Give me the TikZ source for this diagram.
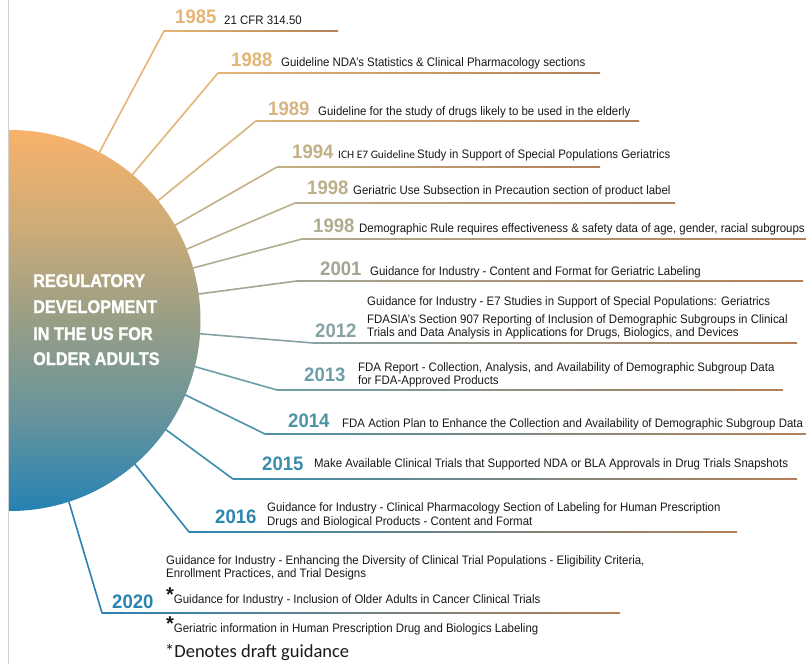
\documentclass[tikz,border=0pt]{standalone}
\usepackage{fontspec}
\setmainfont{Liberation Sans}[FakeStretch=0.93]
\newfontfamily\yearfont{Liberation Sans}[FakeStretch=0.95]
\newfontfamily\starfont{Liberation Sans}
\newfontfamily\titlefont{Liberation Sans}[FakeStretch=0.89, BoldFeatures={FakeBold=1.3}]
\newfontfamily\cfont{Carlito}
\usetikzlibrary{calc}

% palette
\definecolor{c85}{RGB}{229,181,116}
\definecolor{c88}{RGB}{226,182,119}
\definecolor{c89}{RGB}{216,180,126}
\definecolor{c94}{RGB}{196,176,134}
\definecolor{c98a}{RGB}{188,175,140}
\definecolor{c98b}{RGB}{176,172,144}
\definecolor{c01}{RGB}{163,165,146}
\definecolor{c12}{RGB}{134,162,162}
\definecolor{c13}{RGB}{110,159,168}
\definecolor{c14}{RGB}{79,147,168}
\definecolor{c15}{RGB}{60,141,173}
\definecolor{c16}{RGB}{45,134,176}
\definecolor{c20}{RGB}{44,130,178}
\definecolor{tipbrown}{RGB}{180,128,88}
\definecolor{bodytext}{RGB}{25,25,25}

% sun disc: orange at the top, through khaki and grey-teal, to blue at the bottom
\pgfdeclareverticalshading{hubshade}{100bp}{%
  color(0bp)=(rgb,255:red,36;green,130;blue,180);
  color(25bp)=(rgb,255:red,36;green,130;blue,180);
  color(37.5bp)=(rgb,255:red,104;green,148;blue,156);
  color(50bp)=(rgb,255:red,152;green,158;blue,134);
  color(62.5bp)=(rgb,255:red,206;green,172;blue,120);
  color(75bp)=(rgb,255:red,248;green,178;blue,106);
  color(100bp)=(rgb,255:red,248;green,178;blue,106)}

\tikzset{
  yearlbl/.style={anchor=base west, inner sep=0pt, font=\yearfont\bfseries\fontsize{19.5}{21}\selectfont},
  entry/.style={anchor=base west, inner sep=0pt, text=bodytext, font=\fontsize{12.3}{14}\selectfont},
  smallentry/.style={anchor=base west, inner sep=0pt, text=bodytext, font=\cfont\fontsize{11.4}{13}\selectfont},
  titleline/.style={anchor=base west, inner sep=0pt, text=white, font=\titlefont\bfseries\fontsize{18.3}{20}\selectfont},
  spoke/.style={line width=1.6pt, line cap=round, line join=round},
}

% raised asterisk marking draft guidance
\newcommand\draftmark{\raisebox{1.6pt}{\starfont\bfseries\fontsize{20}{20}\selectfont *}}

% #1 name, #2 angle on the disc, #3 elbow x, #4 rail y, #5 rail end x, #6 colour
\newcommand\railentry[6]{%
  \coordinate (#1-elbow) at (#3,#4);
  \coordinate (#1-end) at (#5,#4);
  \draw[spoke, draw=#6] (hub.#2) -- (#1-elbow);
  \shade[left color=#6, right color=tipbrown]
    ($(#1-elbow)+(0,-0.8)$) rectangle ($(#1-end)+(0,0.8)$);
}

\begin{document}
\begin{tikzpicture}[x=1pt, y=-1pt]
\useasboundingbox (0,0) rectangle (806,664);
\fill[white] (0,0) rectangle (806,664);

% left page edge
\draw[black!18, line width=1pt] (8.5,0) -- (8.5,664);

\begin{scope}
  \clip (9,0) rectangle (806,664);
  \node[circle, minimum size=381, inner sep=0pt, shading=hubshade] (hub) at (10,320.5) {};
\end{scope}

\node[titleline] (t1) at (33,287) {REGULATORY};
\node[titleline] (t2) at (33,313) {DEVELOPMENT};
\node[titleline] (t3) at (33,340) {IN THE US FOR};
\node[titleline] (t4) at (33,365) {OLDER ADULTS};

% spokes and rails
\railentry{r85}{62.2}{164}{31}{338}{c85}
\railentry{r88}{50.2}{218}{73}{600}{c88}
\railentry{r89}{39.2}{256}{121}{639}{c89}
\railentry{r94}{30.0}{277}{167}{600}{c94}
\railentry{r98a}{22.5}{295}{203}{675}{c98a}
\railentry{r98b}{16.7}{302}{239}{806}{c98b}
\railentry{r01}{8.2}{297}{281}{803}{c01}
\railentry{r12}{-4.0}{313}{343}{797}{c12}
\railentry{r13}{-14.3}{277}{390}{783}{c13}
\railentry{r14}{-23.9}{265}{434}{806}{c14}
\railentry{r15}{-35.4}{233}{479}{797}{c15}
\railentry{r16}{-49.1}{189}{532}{737}{c16}
\railentry{r20}{-72.6}{102}{613}{620}{c20}

% years
\node[yearlbl, text=c85] (y85) at (175,23) {1985};
\node[yearlbl, text=c88] (y88) at (231,66) {1988};
\node[yearlbl, text=c89] (y89) at (268,115) {1989};
\node[yearlbl, text=c94] (y94) at (292,158) {1994};
\node[yearlbl, text=c98a] (y98a) at (307,194) {1998};
\node[yearlbl, text=c98b] (y98b) at (313,232) {1998};
\node[yearlbl, text=c01] (y01) at (320,275) {2001};
\node[yearlbl, text=c12] (y12) at (315,337) {2012};
\node[yearlbl, text=c13] (y13) at (304,381) {2013};
\node[yearlbl, text=c14] (y14) at (288,427) {2014};
\node[yearlbl, text=c15] (y15) at (262,470) {2015};
\node[yearlbl, text=c16] (y16) at (215,523) {2016};
\node[yearlbl, text=c20] (y20) at (112,608) {2020};

% milestones
\node[entry] (m85) at (224,24) {21 CFR 314.50};
\node[entry] (m88) at (281,66) {Guideline NDA’s Statistics \& Clinical Pharmacology sections};
\node[entry] (m89) at (318,115) {Guideline for the study of drugs likely to be used in the elderly};
\node[smallentry] (m94a) at (338,158) {ICH E7 Guideline};
\node[entry] (m94b) at (417,158) {Study in Support of Special Populations Geriatrics};
\node[entry] (m98a) at (353,194) {Geriatric Use Subsection in Precaution section of product label};
\node[entry] (m98b) at (359,232) {Demographic Rule requires effectiveness \& safety data of age, gender, racial subgroups};
\node[entry] (m01) at (370,275) {Guidance for Industry - Content and Format for Geriatric Labeling};
\node[entry] (m12a) at (367,305) {Guidance for Industry - E7 Studies in Support of Special Populations: Geriatrics};
\node[entry] (m12b) at (367,323) {FDASIA’s Section 907 Reporting of Inclusion of Demographic Subgroups in Clinical};
\node[entry] (m12c) at (367,336) {Trials and Data Analysis in Applications for Drugs, Biologics, and Devices};
\node[entry] (m13a) at (358,371) {FDA Report - Collection, Analysis, and Availability of Demographic Subgroup Data};
\node[entry] (m13b) at (358,384) {for FDA-Approved Products};
\node[entry] (m14) at (342,427) {FDA Action Plan to Enhance the Collection and Availability of Demographic Subgroup Data};
\node[entry] (m15) at (314,467) {Make Available Clinical Trials that Supported NDA or BLA Approvals in Drug Trials Snapshots};
\node[entry] (m16a) at (267,511) {Guidance for Industry - Clinical Pharmacology Section of Labeling for Human Prescription};
\node[entry] (m16b) at (267,525) {Drugs and Biological Products - Content and Format};
\node[entry] (m20a) at (166,564) {Guidance for Industry - Enhancing the Diversity of Clinical Trial Populations - Eligibility Criteria,};
\node[entry] (m20b) at (166,577) {Enrollment Practices, and Trial Designs};
\node[entry] (m20c) at (166,603) {\draftmark Guidance for Industry - Inclusion of Older Adults in Cancer Clinical Trials};
\node[entry] (m20d) at (166,632) {\draftmark Geriatric information in Human Prescription Drug and Biologics Labeling};

\node[anchor=base west, inner sep=0pt, text=bodytext, font=\cfont\fontsize{18.5}{20}\selectfont] (note) at (165,657) {*Denotes draft guidance};
\end{tikzpicture}
\end{document}
